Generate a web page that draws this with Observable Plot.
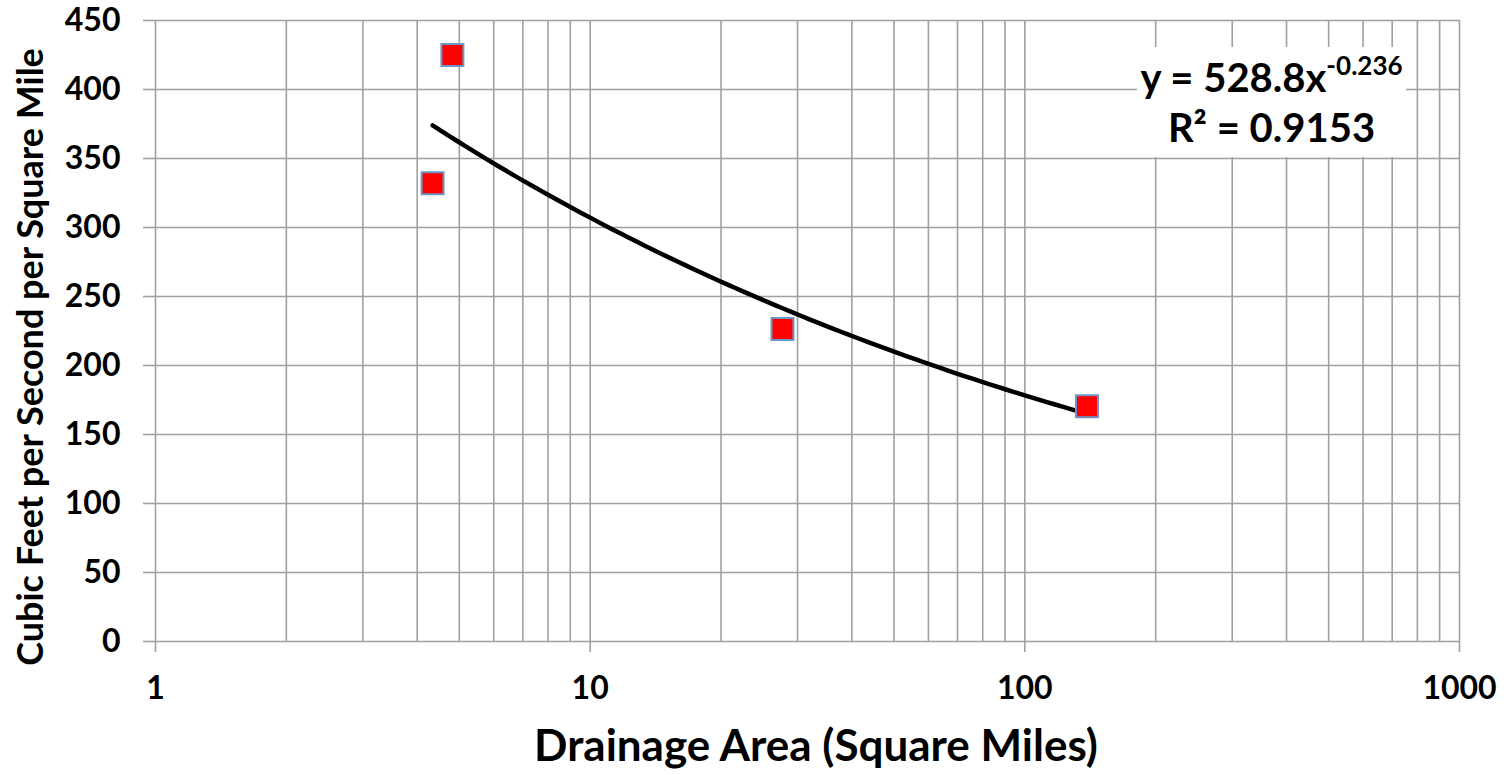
<!DOCTYPE html>
<html>
<head>
<meta charset="utf-8">
<script src="https://cdn.jsdelivr.net/npm/d3@7"></script>
<script src="https://cdn.jsdelivr.net/npm/@observablehq/plot@0.6"></script>
<style>
  body { margin: 0; background: #fff; }
  #chart { width: 1507px; height: 775px; }
</style>
</head>
<body>
<div id="chart"></div>
<script>
// Gauged sites: drainage area (sq mi) and peak unit discharge (cfs per sq mi)
const drainageArea = [4.34, 4.82, 27.7, 139];
const unitDischarge = [332, 425, 226.5, 170.5];

// Power-law trendline reported for the sites
const fitCoef = 528.8;
const fitExp = -0.236;
const fitR2 = 0.9153;

// Axis ticks
const xTicks = [1, 10, 100, 1000];
const yTicks = [0, 50, 100, 150, 200, 250, 300, 350, 400, 450];
const xMinor = [2, 3, 4, 5, 6, 7, 8, 9, 20, 30, 40, 50, 60, 70, 80, 90, 200, 300, 400, 500, 600, 700, 800, 900];

const points = drainageArea.map((a, i) => ({area: a, q: unitDischarge[i]}));

// Trendline traced from the stated equation across the range of the sites
const lo = Math.log10(d3.min(drainageArea)), hi = Math.log10(d3.max(drainageArea));
const trend = d3.range(0, 81).map(i => {
  const a = Math.pow(10, lo + (hi - lo) * i / 80);
  return {area: a, q: fitCoef * Math.pow(a, fitExp)};
});

const W = 1507, H = 775;
const mL = 155, mR = 48, mT = 20, mB = 134;
const grid = "#a0a0a0";
const font = "Lato, 'Open Sans', sans-serif";

const plot = Plot.plot({
  width: W, height: H,
  marginLeft: mL, marginRight: mR, marginTop: mT, marginBottom: mB,
  style: {fontFamily: font, fontWeight: "bold", color: "#000", background: "#fff", overflow: "visible"},
  x: {type: "log", domain: [1, 1000]},
  y: {domain: [0, 450]},
  marks: [
    Plot.ruleX(xMinor, {stroke: grid, strokeWidth: 1.6}),
    Plot.ruleX(xTicks, {stroke: grid, strokeWidth: 1.6}),
    Plot.ruleY(yTicks, {stroke: grid, strokeWidth: 1.6}),
    Plot.axisY({ticks: yTicks, tickSize: 12, tickPadding: 23, stroke: grid, strokeWidth: 1.6,
      fill: "#000", fontSize: 32, fontWeight: "bold", label: null}),
    Plot.axisX({ticks: xTicks, tickSize: 11, tickPadding: 24, stroke: grid, strokeWidth: 1.6,
      fill: "#000", fontSize: 32, fontWeight: "bold", tickFormat: d => String(d), label: null}),
    Plot.line(trend, {x: "area", y: "q", stroke: "#000", strokeWidth: 4.5}),
    Plot.dot(points, {x: "area", y: "q", symbol: "square", r: 12.4,
      fill: "#ff0000", stroke: "#6c95c8", strokeWidth: 2})
  ]
});

document.getElementById("chart").append(plot);

const svg = d3.select(plot);

// Axis titles
svg.append("text")
  .attr("x", 816).attr("y", H - 14)
  .attr("text-anchor", "middle")
  .attr("font-family", font).attr("font-weight", "bold").attr("font-size", 44)
  .attr("fill", "#000")
  .text("Drainage Area (Square Miles)");

svg.append("text")
  .attr("transform", `translate(43, 357) rotate(-90)`)
  .attr("text-anchor", "middle")
  .attr("font-family", font).attr("font-weight", "bold").attr("font-size", 36)
  .attr("fill", "#000")
  .text("Cubic Feet per Second per Square Mile");

// Trendline equation box
const boxW = 269, boxH = 110;
const boxX = W - mR - 53 - boxW, boxY = mT + 27;
const eq = svg.append("g").attr("font-family", font).attr("font-weight", "bold").attr("fill", "#000");
eq.append("rect").attr("x", boxX).attr("y", boxY).attr("width", boxW).attr("height", boxH).attr("fill", "#fff");
const line1 = eq.append("text")
  .attr("x", boxX + boxW / 2).attr("y", boxY + 45)
  .attr("text-anchor", "middle").attr("font-size", 40);
line1.append("tspan").text(`y = ${fitCoef}x`);
line1.append("tspan").attr("dy", -17).attr("font-size", 26).text(String(fitExp));
eq.append("text")
  .attr("x", boxX + boxW / 2).attr("y", boxY + 95)
  .attr("text-anchor", "middle").attr("font-size", 40)
  .text(`R² = ${fitR2}`);
</script>
</body>
</html>
